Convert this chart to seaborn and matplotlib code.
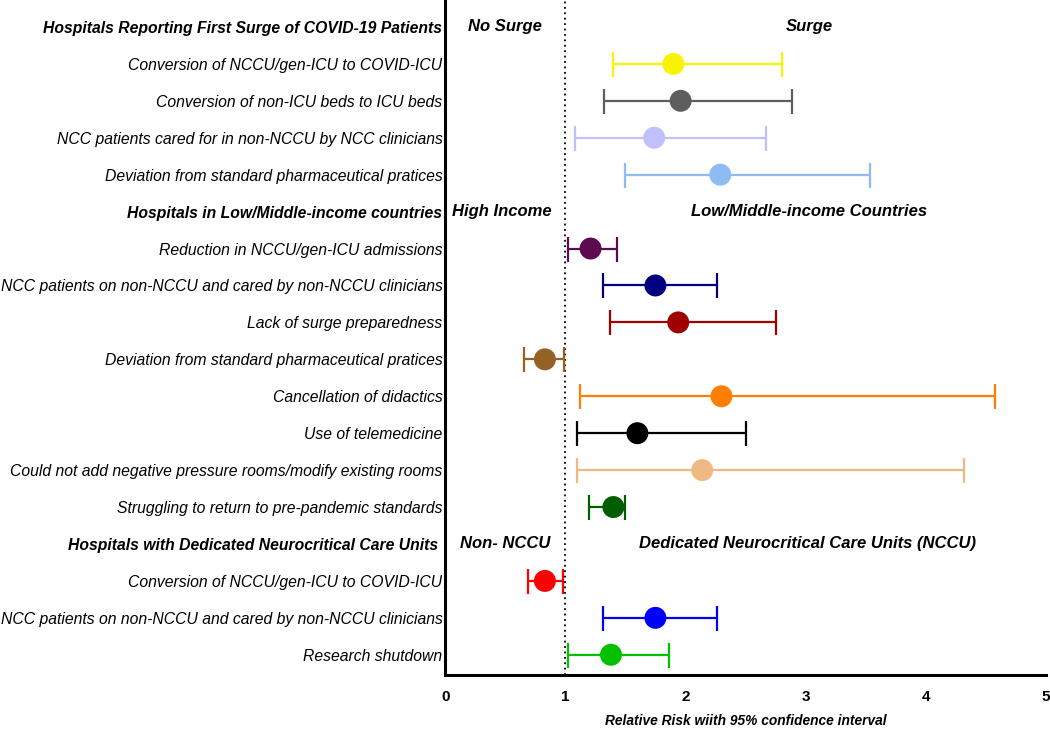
import pandas as pd
import matplotlib
matplotlib.use("Agg")
import matplotlib.pyplot as plt
import seaborn as sns

# Rows from top to bottom; headers have no estimate
labels = [
    "Hospitals Reporting First Surge of COVID-19 Patients",
    "Conversion of NCCU/gen-ICU to COVID-ICU",
    "Conversion of non-ICU beds to ICU beds",
    "NCC patients cared for in non-NCCU by NCC clinicians",
    "Deviation from standard pharmaceutical pratices",
    "Hospitals in Low/Middle-income countries",
    "Reduction in NCCU/gen-ICU admissions",
    "NCC patients on non-NCCU and cared by non-NCCU clinicians",
    "Lack of surge preparedness",
    "Deviation from standard pharmaceutical pratices",
    "Cancellation of didactics",
    "Use of telemedicine",
    "Could not add negative pressure rooms/modify existing rooms",
    "Struggling to return to pre-pandemic standards",
    "Hospitals with Dedicated Neurocritical Care Units ",
    "Conversion of NCCU/gen-ICU to COVID-ICU",
    "NCC patients on non-NCCU and cared by non-NCCU clinicians",
    "Research shutdown",
]
is_header = [True, False, False, False, False, True, False, False, False,
             False, False, False, False, False, True, False, False, False]

rr = [None, 1.90, 1.96, 1.74, 2.29, None, 1.21, 1.75, 1.94, 0.83, 2.30,
      1.60, 2.14, 1.40, None, 0.83, 1.75, 1.38]
lower = [None, 1.40, 1.32, 1.08, 1.50, None, 1.02, 1.31, 1.37, 0.66, 1.12,
         1.10, 1.10, 1.20, None, 0.69, 1.31, 1.02]
upper = [None, 2.80, 2.89, 2.67, 3.54, None, 1.43, 2.26, 2.75, 0.99, 4.58,
         2.50, 4.32, 1.50, None, 0.98, 2.26, 1.86]
colors = [None, "#F8F400", "#5E5E5E", "#C0C0FA", "#8EBBF4", None, "#5E0A50",
          "#000080", "#A00000", "#946224", "#FF8000", "#000000", "#F0B882",
          "#005E00", None, "#FF0000", "#0000FF", "#00C000"]

# group captions: (row, x, text)
group_text = [
    (0, 0.5, "No Surge"), (0, 3.03, "Surge"),
    (5, 0.47, "High Income"), (5, 3.03, "Low/Middle-income Countries"),
    (14, 0.5, "Non- NCCU"), (14, 3.02, "Dedicated Neurocritical Care Units (NCCU)"),
]

df = pd.DataFrame({"row": range(len(labels)), "rr": rr, "lo": lower,
                   "hi": upper, "color": colors})
pts = df.dropna(subset=["rr"]).copy()
pts["row_id"] = pts["row"].astype(str)

sns.set_style("white")
plt.rcParams["font.family"] = ["Liberation Sans", "DejaVu Sans"]
plt.rcParams["text.color"] = "black"
plt.rcParams["axes.labelcolor"] = "black"
plt.rcParams["xtick.color"] = "black"
plt.rcParams["ytick.color"] = "black"

fig, ax = plt.subplots(figsize=(10.5, 7.31), dpi=100)
fig.subplots_adjust(left=0.424, right=0.996, top=1.0, bottom=0.077)

for _, r in pts.iterrows():
    ax.errorbar(r["rr"], r["row"], xerr=[[r["rr"] - r["lo"]], [r["hi"] - r["rr"]]],
                fmt="none", ecolor=r["color"], elinewidth=1.6, capsize=9,
                capthick=1.6, zorder=2)

sns.scatterplot(data=pts, x="rr", y="row", hue="row_id",
                palette=dict(zip(pts["row_id"], pts["color"])),
                s=250, linewidth=0, legend=False, ax=ax, zorder=3)

ax.axvline(1, color="black", linestyle=(0, (1, 2)), linewidth=1.3, zorder=1)

for row, x, txt in group_text:
    ax.text(x, row, txt, ha="center", va="center", fontsize=12,
            fontweight="bold", fontstyle="italic")

ax.set_xlim(0, 5)
ax.set_ylim(17.54, -0.73)
ax.set_xticks(range(6))
ax.set_yticks(range(len(labels)))
ax.set_yticklabels(labels, fontsize=11.3, fontstyle="italic")
for lab, h in zip(ax.get_yticklabels(), is_header):
    if h:
        lab.set_fontweight("bold")
for lab in ax.get_xticklabels():
    lab.set_fontweight("bold")
    lab.set_fontsize(11)

ax.tick_params(axis="y", length=0, pad=2)
ax.tick_params(axis="x", length=7, width=2.2, direction="out", pad=4)
ax.set_xlabel("Relative Risk wiith 95% confidence interval", fontsize=9.9,
              fontweight="bold", fontstyle="italic", labelpad=7)
ax.set_ylabel("")

sns.despine(ax=ax)
for side in ["left", "bottom"]:
    ax.spines[side].set_linewidth(2.2)
    ax.spines[side].set_color("black")

plt.savefig("out.png", dpi=100)
